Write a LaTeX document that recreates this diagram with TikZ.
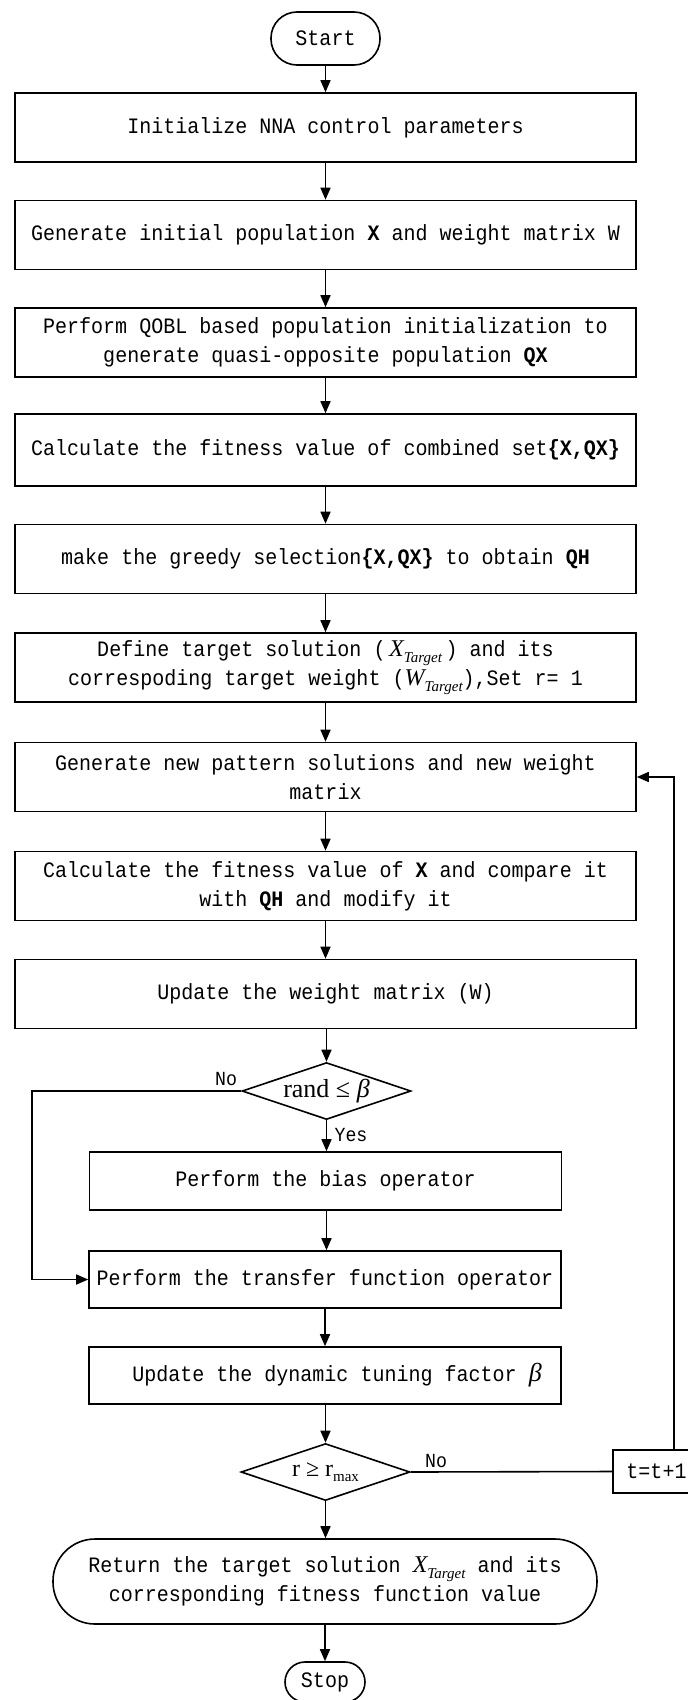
\documentclass[tikz,border=0pt]{standalone}
\usepackage{fontspec}
\setmainfont[FakeStretch=0.91]{Liberation Mono}
\newfontfamily\tnr{Liberation Serif}
\usetikzlibrary{arrows.meta,shapes.geometric}
\newcommand{\tgtsym}[1]{{\tnr\itshape\fontsize{24}{24}\selectfont #1}\raisebox{-6pt}{\tnr\itshape\fontsize{15}{15}\selectfont Target}}
\begin{document}
\begin{tikzpicture}[x=1pt,y=-1pt,
  every node/.style={inner sep=0pt, font=\fontsize{22}{29}\selectfont},
  box/.style={draw, line width=1.6pt, rectangle, minimum width=621pt, minimum height=69pt, align=center},
  sbox/.style={draw, line width=1.6pt, rectangle, minimum width=472pt, minimum height=57pt, align=center},
  term/.style={draw, line width=1.6pt, align=center},
  dec/.style={draw, diamond, line width=1.6pt, minimum width=169pt, minimum height=57pt, aspect=3},
  arr/.style={-{Triangle[length=12pt,width=10pt]}, line width=1.6pt},
  ln/.style={line width=1.6pt},
  lbl/.style={font=\fontsize{20}{24}\selectfont}]
\useasboundingbox (0,0) rectangle (688,1700);
\fill[white] (0,0) rectangle (688,1700);

\node[term, minimum width=109pt, minimum height=53pt, rounded corners=26pt] (start) at (325.5,38.5) {Start};
\node[box] (b1) at (325.5,127.5) {Initialize NNA control parameters};
\node[box] (b2) at (325.5,235) {Generate initial population \textbf{X} and weight matrix W};
\node[box] (b3) at (325.5,342.5) {Perform QOBL based population initialization to\\generate quasi-opposite population \textbf{QX}};
\node[box, minimum height=72pt] (b4) at (325.5,450) {Calculate the fitness value of combined set\textbf{\{X,QX\}}};
\node[box] (b5) at (325.5,559) {make the greedy selection\textbf{\{X,QX\}} to obtain \textbf{QH}};
\node[box] (b6) at (325.5,667.5) {Define target solution (\,\tgtsym{X}\,) and its\\correspoding target weight (\tgtsym{W}),Set r= 1};
\node[box] (b7) at (325.5,777) {Generate new pattern solutions and new weight\\matrix};
\node[box] (b8) at (325.5,886) {Calculate the fitness value of \textbf{X} and compare it\\with \textbf{QH} and modify it};
\node[box] (b9) at (325.5,994) {Update the weight matrix (W)};
\node[dec] (d1) at (326.5,1091) {\makebox[0pt]{\tnr\fontsize{26}{26}\selectfont rand ≤ {\itshape β}}};
\node[sbox, minimum height=58pt] (b10) at (325.5,1181) {Perform the bias operator};
\node[sbox] (b11) at (325,1279.5) {Perform the transfer function operator};
\node[sbox] (b12) at (325,1375.5) {\hspace*{24pt}Update the dynamic tuning factor {\tnr\itshape\fontsize{26}{26}\selectfont β}};
\node[dec] (d2) at (325.5,1472) {\makebox[0pt]{\tnr\fontsize{24}{24}\selectfont r ≥ r\raisebox{-5pt}{\fontsize{15}{15}\selectfont max}}};
\node[draw, line width=1.6pt, minimum width=87pt, minimum height=43pt] (tb) at (656.5,1471.5) {t=t+1};
\node[term, minimum width=544pt, minimum height=85pt, rounded corners=42pt] (ret) at (325,1581.5) {Return the target solution \tgtsym{X} and its\\corresponding fitness function value};
\node[term, minimum width=80pt, minimum height=40pt, rounded corners=20pt] (stop) at (325,1682) {Stop};

\node[lbl] (no1) at (226,1079) {No};
\node[lbl] (yes1) at (351,1135) {Yes};
\node[lbl] (no2) at (436,1461) {No};

\coordinate (nl) at (32,1091);
\coordinate (fbtop) at (674,777);

\draw[arr] (start) -- (b1);
\draw[arr] (b1) -- (b2);
\draw[arr] (b2) -- (b3);
\draw[arr] (b3) -- (b4);
\draw[arr] (b4) -- (b5);
\draw[arr] (b5) -- (b6);
\draw[arr] (b6) -- (b7);
\draw[arr] (b7) -- (b8);
\draw[arr] (b8) -- (b9);
\draw[arr] (b9.south -| d1.north) -- (d1.north);
\draw[arr] (d1.south) -- (d1.south |- b10.north);
\draw[arr] (d1.west) -- (d1.west -| nl) -- (nl |- b11.west) -- (b11.west);
\draw[arr] (b10.south -| d1.south) -- (d1.south |- b11.north);
\draw[arr] (b11) -- (b12);
\draw[arr] (b12.south -| d2.north) -- (d2.north);
\draw[arr] (d2.south) -- (d2.south |- ret.north);
\draw[arr] (ret) -- (stop);
\draw[ln] (d2.east) -- (tb.west);
\draw[arr] (tb.north -| fbtop) -- (fbtop) -- (b7.east);
\end{tikzpicture}
\end{document}
